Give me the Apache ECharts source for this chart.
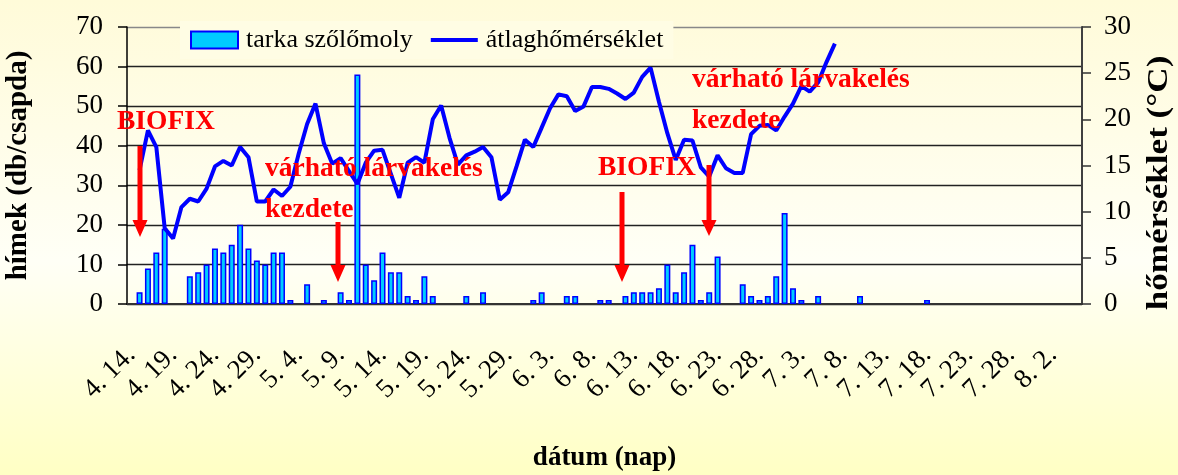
<!DOCTYPE html>
<html>
<head>
<meta charset="utf-8">
<script src="https://cdn.jsdelivr.net/npm/echarts@6/dist/echarts.min.js"></script>
<style>
html, body { margin: 0; padding: 0; }
#main { width: 1178px; height: 475px; }
</style>
</head>
<body>
<div id="main"></div>
<script>
// months shown on the axis: [month, first day, last day]
var monthSpans = [[4, 14, 30], [5, 1, 31], [6, 1, 30], [7, 1, 31], [8, 1, 5]];
var dates = [];
monthSpans.forEach(function (m) {
	for (var d = m[1]; d <= m[2]; d++) {
		dates.push(m[0] + '. ' + d + '.');
	}
});

// moths per trap per day (null = no catch)
var mothCounts = [
	null, 3, 9, 13, 19, null, null, 7, 8, 10,
	14, 13, 15, 20, 14, 11, 10, 13, 13, 1,
	null, 5, null, 1, null, 3, 1, 58, 10, 6,
	13, 8, 8, 2, 1, 7, 2, null, null, null,
	2, null, 3, null, null, null, null, null, 1, 3,
	null, null, 2, 2, null, null, 1, 1, null, 2,
	3, 3, 3, 4, 10, 3, 8, 15, 1, 3,
	12, null, null, 5, 2, 1, 2, 7, 23, 4,
	1, null, 2, null, null, null, null, 2, null, null,
	null, null, null, null, null, 1, null, null, null, null,
	null, null, null, null, null, null, null, null, null, null,
	null, null, null, null
];

// daily mean temperature (°C)
var meanTemp = [
	null, 14.5, 18.8, 17.0, 8.2, 7.1, 10.5, 11.4, 11.1, 12.5,
	14.9, 15.5, 15.0, 17.0, 15.9, 11.1, 11.1, 12.4, 11.7, 12.7,
	16.3, 19.5, 21.7, 17.4, 15.2, 15.8, 14.4, 13.0, 15.3, 16.6,
	16.7, 14.1, 11.5, 15.3, 15.9, 15.3, 20.0, 21.5, 18.0, 15.1,
	16.1, 16.5, 17.0, 15.9, 11.3, 12.1, 14.9, 17.8, 17.0, 19.1,
	21.2, 22.7, 22.5, 20.9, 21.4, 23.5, 23.5, 23.3, 22.8, 22.2,
	22.9, 24.6, 25.6, 21.9, 18.5, 15.6, 17.8, 17.7, 14.8, 13.8,
	16.1, 14.7, 14.2, 14.2, 18.4, 19.3, 19.4, 18.8, 20.3, 21.7,
	23.6, 23.0, 24.0, 26.2, 28.2
];

var countTicks = [0, 70, 10];
var tempTicks = [0, 30, 5];

var serif = '"Liberation Serif", "Times New Roman", serif';

var main = document.getElementById('main');
var myChart = echarts.init(main);

function arrow(x, y0, yHead, yTip) {
	return {
		type: 'polygon',
		z: 50,
		shape: {
			points: [[x - 2.5, y0], [x + 2.5, y0], [x + 2.5, yHead], [x + 7.5, yHead],
				[x, yTip], [x - 7.5, yHead], [x - 2.5, yHead]]
		},
		style: { fill: '#ff0000' }
	};
}

function note(text, x, y) {
	return {
		type: 'text',
		z: 50,
		x: x,
		y: y,
		style: {
			text: text,
			font: 'bold 27.5px ' + serif,
			fill: '#ff0000',
			verticalAlign: 'middle'
		}
	};
}

var option = {
	backgroundColor: {
		type: 'linear',
		x: 0, y: 0, x2: 0, y2: 1,
		colorStops: [
			{ offset: 0, color: '#fffbd9' },
			{ offset: 0.55, color: '#fffff6' },
			{ offset: 1, color: '#ffffc4' }
		]
	},
	animation: false,
	textStyle: { fontFamily: serif },
	grid: {
		left: 127,
		right: 96,
		top: 27,
		bottom: 171,
		outerBoundsMode: 'none'
	},
	legend: {
		left: 180,
		top: 21,
		padding: [6, 10, 6, 10],
		itemGap: 16,
		itemWidth: 47,
		itemHeight: 17,
		backgroundColor: '#fffde4',
		textStyle: {
			fontFamily: serif,
			fontSize: 26,
			color: '#000',
			padding: [0, 0, 0, 3]
		},
		data: [
			{ name: 'tarka szőlőmoly', icon: 'rect' },
			{ name: 'átlaghőmérséklet', itemStyle: { opacity: 0 }, lineStyle: { width: 4, color: '#0000ff' } }
		]
	},
	xAxis: {
		type: 'category',
		data: dates,
		boundaryGap: true,
		name: 'dátum (nap)',
		nameLocation: 'middle',
		nameGap: 141,
		nameTextStyle: {
			fontFamily: serif,
			fontSize: 27,
			fontWeight: 'bold',
			color: '#000'
		},
		axisLine: { lineStyle: { color: '#333', width: 2 } },
		axisTick: { interval: 4, length: 9, lineStyle: { color: '#333', width: 1.5 } },
		axisLabel: {
			interval: 4,
			rotate: 45,
			margin: 47,
			fontFamily: serif,
			fontSize: 27,
			color: '#000'
		}
	},
	yAxis: [{
		type: 'value',
		min: countTicks[0],
		max: countTicks[1],
		interval: countTicks[2],
		name: 'hímek (db/csapda)',
		nameLocation: 'middle',
		nameRotate: 90,
		nameGap: 94,
		nameTextStyle: {
			fontFamily: serif,
			fontSize: 29,
			fontWeight: 'bold',
			color: '#000'
		},
		axisLine: { show: true, lineStyle: { color: '#000', width: 1.5 } },
		axisTick: { show: true, length: 9, lineStyle: { color: '#000', width: 1.5 } },
		axisLabel: { margin: 24, fontFamily: serif, fontSize: 27, color: '#000' },
		splitLine: {
			show: true,
			lineStyle: {
				color: ['#222', '#222', '#222', '#222', '#222', '#222', '#222', '#888'],
				width: 1.4
			}
		}
	}, {
		type: 'value',
		min: tempTicks[0],
		max: tempTicks[1],
		interval: tempTicks[2],
		position: 'right',
		axisLine: { show: true, lineStyle: { color: '#404040', width: 2 } },
		axisTick: { show: true, length: 9, lineStyle: { color: '#333', width: 1.5 } },
		axisLabel: { margin: 22, fontFamily: serif, fontSize: 27, color: '#000' },
		splitLine: { show: false }
	}],
	series: [{
		name: 'tarka szőlőmoly',
		type: 'bar',
		barWidth: 6,
		itemStyle: {
			color: '#00ccff',
			borderColor: '#0000ff',
			borderWidth: 1.5
		},
		data: mothCounts
	}, {
		name: 'átlaghőmérséklet',
		type: 'line',
		yAxisIndex: 1,
		symbol: 'none',
		showSymbol: false,
		z: 5,
		itemStyle: { color: '#0000ff' },
		lineStyle: { color: '#0000ff', width: 4 },
		data: meanTemp
	}],
	graphic: [
		// right axis title, stretched along its length like the original
		{
			type: 'text',
			x: 1160,
			y: 183,
			rotation: Math.PI / 2,
			scaleX: 1.21,
			style: {
				text: 'hőmérséklet (°C)',
				font: 'bold 29px ' + serif,
				fill: '#000',
				align: 'center',
				verticalAlign: 'middle'
			}
		},
		note('BIOFIX', 117, 122),
		arrow(140, 146, 220, 237),
		note('várható lárvakelés', 265, 169),
		note('kezdete', 265, 210),
		arrow(338, 222, 265, 282),
		note('BIOFIX', 598, 168),
		arrow(622, 192, 265, 282),
		note('várható lárvakelés', 692, 80),
		note('kezdete', 692, 121),
		arrow(709, 165, 220, 236)
	]
};

myChart.setOption(option);
</script>
</body>
</html>
